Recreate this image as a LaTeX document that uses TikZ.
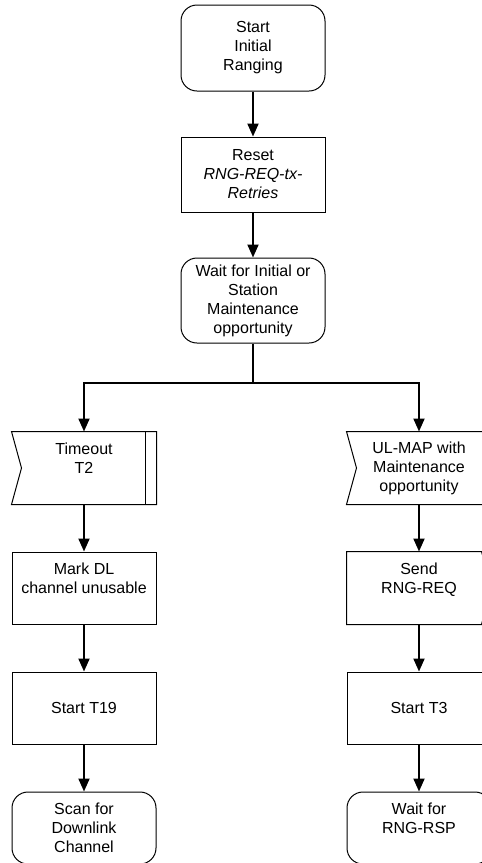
\documentclass[tikz,border=0pt]{standalone}
\usepackage{fontspec}
\setmainfont{Liberation Sans}
\usetikzlibrary{arrows.meta}

% signal outlines round a plain node
\newcommand\insignal[1]{\draw [line width=0.5pt] (#1.north west) -- (#1.north east) -- (#1.south east) -- (#1.south west) -- ([xshift=5pt]#1.west) -- cycle;}
\newcommand\outsignal[1]{\draw [line width=0.5pt] (#1.north west) -- ([xshift=-5pt]#1.north east) -- (#1.east) -- ([xshift=-5pt]#1.south east) -- (#1.south west) -- cycle;}

\begin{document}
\begin{tikzpicture}
	[x=0.5pt, y=-0.5pt, font=\fontsize{8pt}{9.5pt}\selectfont,
	every node/.style={draw,line width=0.5pt,align=center,inner sep=1pt,minimum width=72pt,minimum height=36pt},
	state/.style={rounded corners=8pt},
	sig/.style={draw=none},
	flow/.style={line width=1pt,-{Triangle[length=6.5pt,width=5.5pt]}}]
	\path[use as bounding box,clip] (0,0) rectangle (482,863);
	% main column
	\node (start) [state,minimum height=43pt] at (253,48) {Start\\Initial\\Ranging};
	\node (reset) [minimum height=37.5pt] at (253,174.5) {Reset\\\textit{RNG-REQ-tx-}\\\textit{Retries}};
	\node (wait) [state,minimum height=42.5pt] at (253,300.5) {Wait for Initial or\\Station\\Maintenance\\opportunity};
	\coordinate (fork) at (253,383);
	% timeout branch
	\node (timeout) [sig] at (84,468) {Timeout\\T2\\\mbox{}};
	\insignal{timeout}
	\draw [line width=0.5pt] ([xshift=-5.5pt]timeout.north east) -- ([xshift=-5.5pt]timeout.south east);
	\node (markdl) at (84,588) {Mark DL\\channel unusable\\\mbox{}};
	\node (startT19) at (84,708) {Start T19};
	\node (scan) [state] at (84,828) {Scan for\\Downlink\\Channel};
	% maintenance branch
	\node (ulmap) [sig] at (419,468) {UL-MAP with\\Maintenance\\opportunity};
	\insignal{ulmap}
	\node (send) [sig] at (419,588) {Send\\RNG-REQ\\\mbox{}};
	\outsignal{send}
	\node (startT3) at (419,708) {Start T3};
	\node (waitrsp) [state] at (419,828) {Wait for\\RNG-RSP\\\mbox{}};
	% connectors
	\foreach \a/\b in {start/reset,reset/wait,timeout/markdl,markdl/startT19,startT19/scan,ulmap/send,send/startT3,startT3/waitrsp}
		\draw [flow] (\a) -- (\b);
	\draw [line width=1pt] (wait) -- (fork);
	\draw [flow] (fork) -| (timeout);
	\draw [flow] (fork) -| (ulmap);
\end{tikzpicture}
\end{document}
